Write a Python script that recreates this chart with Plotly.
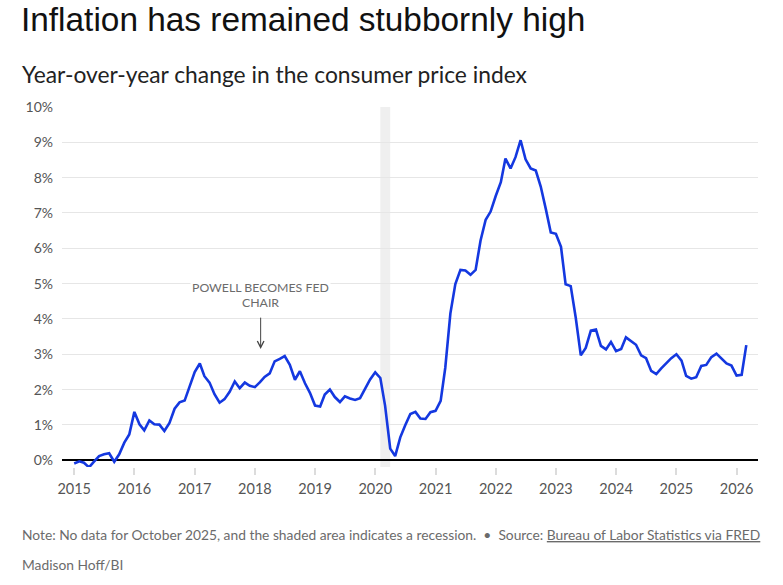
import plotly.graph_objects as go

# ---- data (year-over-year CPI change, %) ----
years = list(range(2015, 2027))
cpi_2015 = [-0.09, -0.03, -0.07, -0.20, -0.04, 0.12, 0.17, 0.20, -0.04, 0.17, 0.50, 0.73]
cpi_2016 = [1.37, 1.02, 0.85, 1.13, 1.02, 1.01, 0.83, 1.06, 1.46, 1.64, 1.69, 2.07]
cpi_2017 = [2.50, 2.74, 2.38, 2.20, 1.87, 1.63, 1.73, 1.94, 2.23, 2.04, 2.20, 2.11]
cpi_2018 = [2.07, 2.21, 2.36, 2.46, 2.80, 2.87, 2.95, 2.70, 2.28, 2.52, 2.18, 1.91]
cpi_2019 = [1.55, 1.52, 1.86, 2.00, 1.79, 1.65, 1.81, 1.75, 1.71, 1.76, 2.05, 2.29]
cpi_2020 = [2.49, 2.33, 1.54, 0.33, 0.12, 0.65, 0.99, 1.31, 1.37, 1.18, 1.17, 1.36]
cpi_2021 = [1.40, 1.68, 2.62, 4.16, 4.99, 5.39, 5.37, 5.25, 5.39, 6.22, 6.81, 7.04]
cpi_2022 = [7.48, 7.87, 8.54, 8.26, 8.58, 9.06, 8.52, 8.26, 8.20, 7.75, 7.11, 6.45]
cpi_2023 = [6.41, 6.04, 4.98, 4.93, 4.05, 2.97, 3.18, 3.67, 3.70, 3.24, 3.14, 3.35]
cpi_2024 = [3.09, 3.15, 3.48, 3.36, 3.27, 2.97, 2.89, 2.53, 2.44, 2.60, 2.75, 2.89]
cpi_2025 = [3.00, 2.82, 2.39, 2.31, 2.35, 2.67, 2.70, 2.92, 3.02, None, 2.74, 2.68]
cpi_2026 = [2.40, 2.42, 3.26]

yearly = [cpi_2015, cpi_2016, cpi_2017, cpi_2018, cpi_2019, cpi_2020,
          cpi_2021, cpi_2022, cpi_2023, cpi_2024, cpi_2025, cpi_2026]

dates, values = [], []
for yr, vals in zip(years, yearly):
    for m, v in enumerate(vals, start=1):
        dates.append(f"{yr}-{m:02d}-01")
        values.append(v)

recession_start = "2020-02-01"
recession_end = "2020-04-01"
powell_date = "2018-02-05"

y_ticks = list(range(0, 11))
y_tick_labels = [f"{v}%" for v in y_ticks]
x_ticks = [f"{y}-01-01" for y in years]
x_tick_labels = [str(y) for y in years]

SANS = "Lato, 'Source Sans Pro', sans-serif"

fig = go.Figure()
fig.add_trace(go.Scatter(
    x=dates, y=values, mode="lines", connectgaps=True,
    line=dict(color="#1438e0", width=2.6), hoverinfo="skip",
))

fig.add_shape(type="rect", xref="x", yref="paper",
              x0=recession_start, x1=recession_end, y0=0, y1=1,
              fillcolor="#efefef", line=dict(width=0), layer="below")

# Powell annotation
fig.add_annotation(x=powell_date, y=4.9, xref="x", yref="y",
                   text="POWELL BECOMES FED", showarrow=False,
                   font=dict(family=SANS, size=12.3, color="#6b6b6b"),
                   bgcolor="white", borderpad=1)
fig.add_annotation(x=powell_date, y=4.47, xref="x", yref="y",
                   text="CHAIR", showarrow=False,
                   font=dict(family=SANS, size=12.3, color="#6b6b6b"),
                   bgcolor="white", borderpad=1)
fig.add_annotation(x=powell_date, y=3.15, ax=powell_date, ay=4.08,
                   xref="x", yref="y", axref="x", ayref="y",
                   text="", showarrow=True, arrowhead=5, arrowsize=1.3,
                   arrowwidth=1, arrowcolor="#444")

# Titles and footer (positions given in page pixels; body margin removed)
L, T, PW, PH = 62, 107, 696, 360
def py(pix):
    return (T + PH - pix) / PH
def px(pix):
    return (pix - L) / PW

fig.add_annotation(xref="paper", yref="paper", x=px(19.5), y=py(0.5),
                   xanchor="left", yanchor="top", showarrow=False,
                   text="Inflation has remained stubbornly high",
                   font=dict(family="Liberation Sans, Arial, sans-serif", size=33.4, color="#111"),
                   borderpad=0)
fig.add_annotation(xref="paper", yref="paper", x=px(20), y=py(73.5),
                   xanchor="left", yanchor="middle", showarrow=False,
                   text="Year-over-year change in the consumer price index",
                   font=dict(family=SANS, size=22.8, color="#222"))
fig.add_annotation(xref="paper", yref="paper", x=px(20), y=py(534),
                   xanchor="left", yanchor="middle", showarrow=False,
                   text="Note: No data for October 2025, and the shaded area indicates a recession.  \u2022  Source: <u>Bureau of Labor Statistics via FRED</u>",
                   font=dict(family=SANS, size=13.8, color="#6b6b6b"))
fig.add_annotation(xref="paper", yref="paper", x=px(20), y=py(564),
                   xanchor="left", yanchor="middle", showarrow=False,
                   text="Madison Hoff/BI",
                   font=dict(family=SANS, size=13.8, color="#6b6b6b"))

fig.update_layout(
    width=783, height=585,
    margin=dict(l=L, r=783 - L - PW, t=T, b=585 - T - PH),
    paper_bgcolor="white", plot_bgcolor="white",
    showlegend=False, hovermode=False,
    xaxis=dict(type="date", range=["2014-10-19", "2026-05-11"],
               tickvals=x_ticks, ticktext=x_tick_labels,
               ticks="outside", ticklen=7, tickwidth=2, tickcolor="#dcdcdc",
               showgrid=False, zeroline=False, showline=False,
               ticklabelstandoff=2,
               tickfont=dict(family=SANS, size=14.5, color="#555"),
               fixedrange=True),
    yaxis=dict(range=[-0.19, 10], tickvals=y_ticks, ticktext=y_tick_labels,
               showgrid=True, gridcolor="#e6e6e6", gridwidth=1,
               zeroline=True, zerolinecolor="#000", zerolinewidth=1.5,
               ticks="", ticklabelstandoff=8,
               tickfont=dict(family=SANS, size=14, color="#555"),
               fixedrange=True),
)

fig.write_html("out.html", config={"displayModeBar": False},
               post_script="document.body.style.margin='0';document.body.style.overflow='hidden';")
